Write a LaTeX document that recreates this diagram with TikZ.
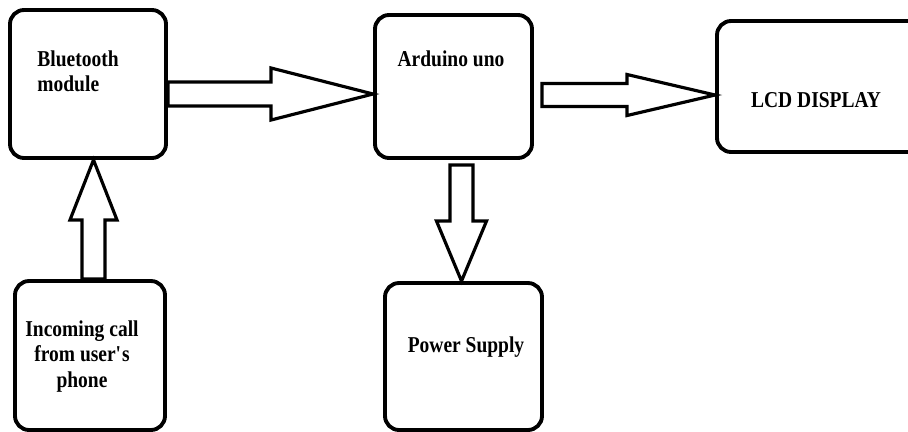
\documentclass[tikz,border=0pt]{standalone}
\usepackage{fontspec}
\setmainfont{Liberation Serif}[FakeStretch=0.86]
\usetikzlibrary{calc, positioning}
\tikzset{
  blkbox/.style       = {rectangle, rounded corners=8pt, draw=black, line width=2.2pt, fill=white},
  lbl/.style          = {inner sep=0pt, font=\bfseries\fontsize{12.9}{14.7}\selectfont},
  fat/.style n args   = {3}{draw=black, fill=white, line width=1.8pt, line join=miter,
    to path={($(\tikztostart)!#1!90:(\tikztotarget)$)
      -- ($(\tikztotarget)!#3!(\tikztostart)!#1!90:(\tikztotarget)$)
      -- ($(\tikztotarget)!#3!(\tikztostart)!#2!90:(\tikztotarget)$)
      -- (\tikztotarget)
      -- ($(\tikztotarget)!#3!(\tikztostart)!#2!-90:(\tikztotarget)$)
      -- ($(\tikztotarget)!#3!(\tikztostart)!#1!-90:(\tikztotarget)$)
      -- ($(\tikztostart)!#1!-90:(\tikztotarget)$) -- cycle}},
}

\begin{document}
\begin{tikzpicture}
  % 画布边界
  \useasboundingbox (0,0) rectangle (18.16,-8.62);

  \node[blkbox, minimum width=3.12cm, minimum height=2.96cm] (bt)   at (1.76,-1.68) {};
  \node[blkbox, minimum width=3.00cm, minimum height=2.98cm] (call) at (1.80,-7.11) {};
  \node[blkbox, minimum width=3.14cm, minimum height=2.86cm] (ard)  at (9.07,-1.73) {};
  \node[blkbox, minimum width=3.14cm, minimum height=2.94cm] (pwr)  at (9.27,-7.13) {};
  \node[blkbox, minimum width=4.40cm, minimum height=2.62cm] (lcd)  at (16.54,-1.73) {};

  \node[lbl, anchor=north west, align=left] (btlbl) at ($(bt.north west)+(0.58,-0.84)$) {Bluetooth\\module};
  \node[lbl, anchor=base] (ardlbl) at ($(ard.north)+(-0.05,-1.06)$) {Arduino uno};
  \node[lbl, anchor=base] (lcdlbl) at ($(lcd.west)+(2.02,-0.41)$) {LCD DISPLAY};
  \node[lbl, anchor=base] (pwrlbl) at ($(pwr.center)+(0.05,0.09)$) {Power Supply};
  \node[lbl, anchor=north, align=center] (calllbl) at ($(call.north)+(-0.16,-0.82)$) {Incoming call\\from user\textquotesingle s\\phone};

  \coordinate (c1) at ($(call.north)+(0.07,0)$);
  \coordinate (b1) at ($(bt.east)+(0,-0.2)$);
  \coordinate (a1) at ($(ard.east)+(0.16,-0.17)$);
  \coordinate (a2) at ($(ard.south)+(0.16,-0.1)$);

  \draw[fat={0.23cm}{0.47cm}{1.2cm}]  (c1) to (c1 |- bt.south);
  \draw[fat={0.24cm}{0.52cm}{2.04cm}] (b1) to (b1 -| ard.west);
  \draw[fat={0.23cm}{0.41cm}{1.76cm}] (a1) to (a1 -| lcd.west);
  \draw[fat={0.23cm}{0.5cm}{1.2cm}]   (a2) to (a2 |- pwr.north);
\end{tikzpicture}
\end{document}
